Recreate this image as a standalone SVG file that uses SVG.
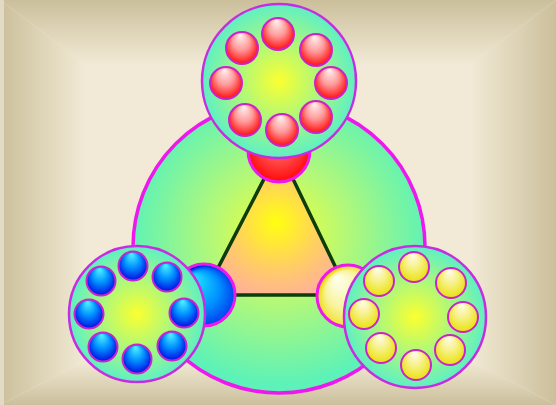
<svg xmlns="http://www.w3.org/2000/svg" width="556" height="405" viewBox="0 0 556 405">
<defs>
<linearGradient id="bvT" x1="0" y1="0" x2="0" y2="1"><stop offset="0" stop-color="#cbbf9b"/><stop offset="1" stop-color="#f2ead6"/></linearGradient>
<linearGradient id="bvB" x1="0" y1="1" x2="0" y2="0"><stop offset="0" stop-color="#cbbf9b"/><stop offset="1" stop-color="#f2ead6"/></linearGradient>
<linearGradient id="bvL" x1="0" y1="0" x2="1" y2="0"><stop offset="0" stop-color="#cbbf9b"/><stop offset="1" stop-color="#f2ead6"/></linearGradient>
<linearGradient id="bvR" x1="1" y1="0" x2="0" y2="0"><stop offset="0" stop-color="#cbbf9b"/><stop offset="1" stop-color="#f2ead6"/></linearGradient>
<radialGradient id="gBig" cx="279" cy="235" r="150" gradientUnits="userSpaceOnUse"><stop offset="0" stop-color="#f4ff30"/><stop offset="0.45" stop-color="#b4f878"/><stop offset="1" stop-color="#5cf2b8"/></radialGradient>
<radialGradient id="gClu" cx="50%" cy="50%" r="50%"><stop offset="0" stop-color="#fbff30"/><stop offset="0.5" stop-color="#b0f878"/><stop offset="1" stop-color="#5ef0c4"/></radialGradient>
<radialGradient id="gTri" cx="50%" cy="50%" r="60%"><stop offset="0" stop-color="#ffff10"/><stop offset="0.5" stop-color="#ffd060"/><stop offset="1" stop-color="#ffa8a8"/></radialGradient>
<radialGradient id="gRed" cx="50%" cy="50%" r="55%" fx="45%" fy="8%"><stop offset="0" stop-color="#fff4f4"/><stop offset="0.5" stop-color="#ff9a9a"/><stop offset="1" stop-color="#ff0000"/></radialGradient>
<radialGradient id="gBlue" cx="50%" cy="50%" r="55%" fx="45%" fy="8%"><stop offset="0" stop-color="#50f8ff"/><stop offset="0.5" stop-color="#0090ff"/><stop offset="1" stop-color="#0000e0"/></radialGradient>
<radialGradient id="gYel" cx="50%" cy="50%" r="55%" fx="45%" fy="8%"><stop offset="0" stop-color="#fffdf2"/><stop offset="0.5" stop-color="#f6f080"/><stop offset="1" stop-color="#e8e000"/></radialGradient>
<radialGradient id="gRedBig" cx="50%" cy="50%" r="55%" fx="50%" fy="20%"><stop offset="0" stop-color="#ffd0d0"/><stop offset="0.5" stop-color="#ff5050"/><stop offset="1" stop-color="#ff0000"/></radialGradient>
<radialGradient id="gBlueBig" cx="60%" cy="60%" r="60%" fx="30%" fy="20%"><stop offset="0" stop-color="#20f0ff"/><stop offset="0.5" stop-color="#0090ff"/><stop offset="1" stop-color="#0000e0"/></radialGradient>
<radialGradient id="gYelBig" cx="60%" cy="60%" r="60%" fx="30%" fy="20%"><stop offset="0" stop-color="#fffff0"/><stop offset="0.5" stop-color="#f8f4a0"/><stop offset="1" stop-color="#ecd800"/></radialGradient>
</defs>
<style>
.big{fill:url(#gBig);stroke:#ee18ee;stroke-width:3.5}
.clu{fill:url(#gClu);stroke:#c82ce0;stroke-width:2.5}
.tri{fill:url(#gTri);stroke:#0d3d0d;stroke-width:3.5;stroke-linejoin:round}
.bb{stroke:#ee18ee;stroke-width:3}
.r{fill:url(#gRed);stroke:#cc22cc;stroke-width:2}
.b{fill:url(#gBlue);stroke:#cc22cc;stroke-width:2}
.y{fill:url(#gYel);stroke:#cc22cc;stroke-width:2}
</style>
<g id="background">
<rect width="556" height="405" fill="#f2ead6"/>
<polygon points="0,0 556,0 470,65 86,65" fill="url(#bvT)"/>
<polygon points="0,405 556,405 470,360 86,360" fill="url(#bvB)"/>
<polygon points="0,0 86,65 86,360 0,405" fill="url(#bvL)"/>
<polygon points="556,0 470,65 470,360 556,405" fill="url(#bvR)"/>
<rect x="0" y="0" width="4" height="405" fill="#e2dac4"/>
</g>
<g id="main-circle"><circle class="big" cx="279" cy="247" r="146"/></g>
<g id="connectors"><polygon class="tri" points="279,150 204,295 349,295"/></g>
<g id="red-node"><circle class="bb" cx="279" cy="151" r="31" fill="url(#gRedBig)"/></g>
<g id="blue-node"><circle class="bb" cx="204" cy="295" r="31" fill="url(#gBlueBig)"/></g>
<g id="yellow-node"><circle class="bb" cx="348" cy="296" r="31" fill="url(#gYelBig)"/></g>
<g id="red-cluster">
<circle class="clu" cx="279" cy="81" r="77"/>
<circle class="r" cx="278" cy="34" r="16"/>
<circle class="r" cx="316" cy="50" r="16"/>
<circle class="r" cx="331" cy="83" r="16"/>
<circle class="r" cx="316" cy="117" r="16"/>
<circle class="r" cx="282" cy="130" r="16"/>
<circle class="r" cx="245" cy="120" r="16"/>
<circle class="r" cx="226" cy="83" r="16"/>
<circle class="r" cx="242" cy="48" r="16"/>
</g>
<g id="blue-cluster">
<circle class="clu" cx="137" cy="314" r="68"/>
<circle class="b" cx="133" cy="266" r="14.5"/>
<circle class="b" cx="167" cy="277" r="14.5"/>
<circle class="b" cx="184" cy="313" r="14.5"/>
<circle class="b" cx="172" cy="346" r="14.5"/>
<circle class="b" cx="137" cy="359" r="14.5"/>
<circle class="b" cx="103" cy="347" r="14.5"/>
<circle class="b" cx="89" cy="314" r="14.5"/>
<circle class="b" cx="101" cy="281" r="14.5"/>
</g>
<g id="yellow-cluster">
<circle class="clu" cx="415" cy="317" r="71"/>
<circle class="y" cx="414" cy="267" r="15"/>
<circle class="y" cx="451" cy="283" r="15"/>
<circle class="y" cx="463" cy="317" r="15"/>
<circle class="y" cx="450" cy="350" r="15"/>
<circle class="y" cx="416" cy="365" r="15"/>
<circle class="y" cx="381" cy="348" r="15"/>
<circle class="y" cx="364" cy="314" r="15"/>
<circle class="y" cx="379" cy="281" r="15"/>
</g>
</svg>
